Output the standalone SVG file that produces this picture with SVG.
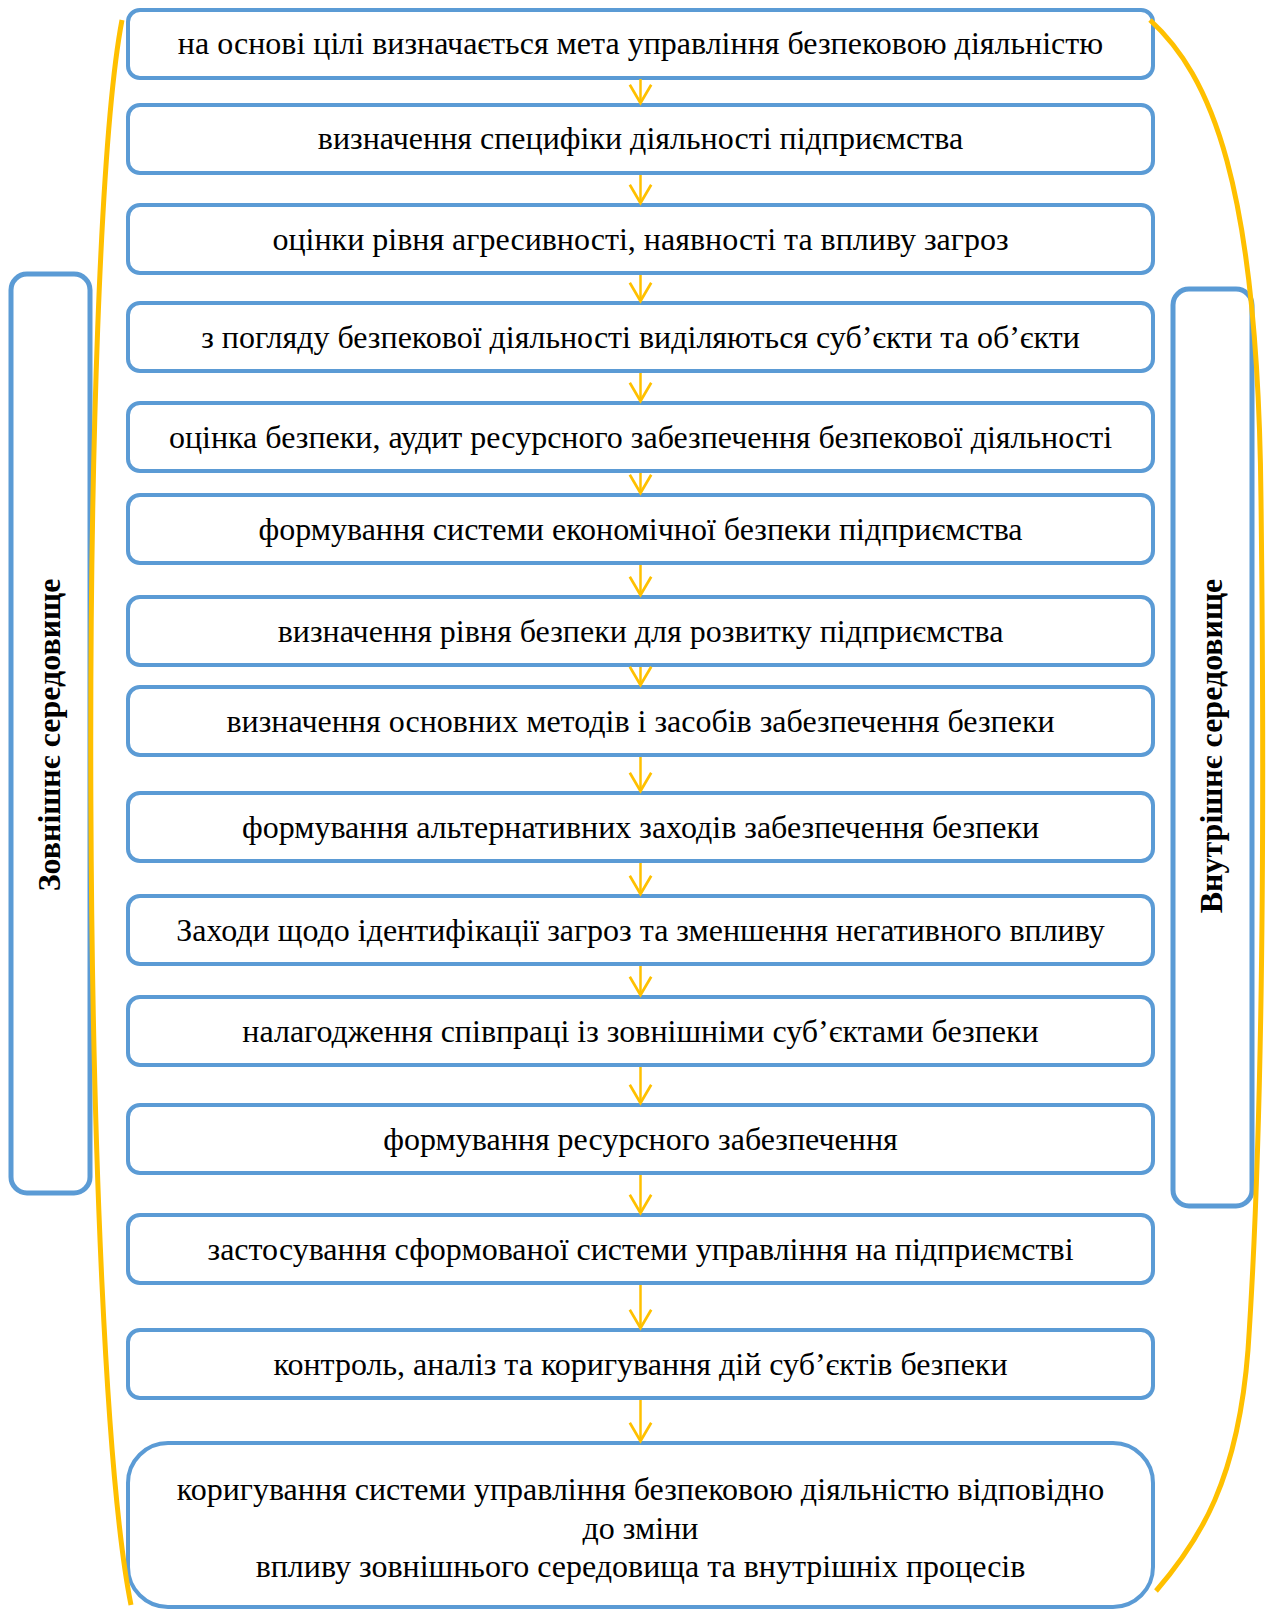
<svg xmlns="http://www.w3.org/2000/svg" width="1270" height="1609" viewBox="0 0 1270 1609">
<style>
.box{fill:#fff;stroke:#5B9BD5;stroke-width:4}
.side{fill:#fff;stroke:#5B9BD5;stroke-width:5}
.t{font-family:"Liberation Serif","Times New Roman",serif;font-size:32px;fill:#000;text-anchor:middle}
.vt{font-family:"Liberation Serif","Times New Roman",serif;font-size:32px;font-weight:bold;fill:#000;text-anchor:middle}
.arr{stroke:#FFC000;stroke-width:2.5;fill:none;marker-end:url(#ah)}
.loop{stroke:#FFC000;stroke-width:5;fill:none}
</style>
<defs>
<marker id="ah" markerUnits="userSpaceOnUse" markerWidth="30" markerHeight="30" viewBox="-22 -14 26 28" refX="0" refY="0" orient="auto" overflow="visible">
<path d="M-17,-10 L0,0 L-17,10" fill="none" stroke="#FFC000" stroke-width="2.5" stroke-linejoin="miter"/>
</marker>
</defs>
<rect width="1270" height="1609" fill="#fff"/>
<g id="side-left"><rect class="side" x="11" y="274" width="79" height="919" rx="16"/><text class="vt" transform="translate(60,735) rotate(-90)">Зовнішнє середовище</text></g>
<g id="side-right"><rect class="side" x="1173" y="289" width="79" height="917" rx="16"/><text class="vt" transform="translate(1222,746) rotate(-90)">Внутрішнє середовище</text></g>
<g id="n1"><rect class="box" x="128" y="10" width="1025" height="68" rx="12"/><text class="t" x="640.5" y="54">на основі цілі визначається мета управління безпековою діяльністю</text></g>
<g id="n2"><rect class="box" x="128" y="105" width="1025" height="68" rx="12"/><text class="t" x="640.5" y="149">визначення специфіки діяльності підприємства</text></g>
<g id="n3"><rect class="box" x="128" y="205" width="1025" height="68" rx="12"/><text class="t" x="640.5" y="250">оцінки рівня агресивності, наявності та впливу загроз</text></g>
<g id="n4"><rect class="box" x="128" y="303" width="1025" height="68" rx="12"/><text class="t" x="640.5" y="348">з погляду безпекової діяльності виділяються суб’єкти та об’єкти</text></g>
<g id="n5"><rect class="box" x="128" y="403" width="1025" height="68" rx="12"/><text class="t" x="640.5" y="448">оцінка безпеки, аудит ресурсного забезпечення безпекової діяльності</text></g>
<g id="n6"><rect class="box" x="128" y="495" width="1025" height="68" rx="12"/><text class="t" x="640.5" y="540">формування системи економічної безпеки підприємства</text></g>
<g id="n7"><rect class="box" x="128" y="597" width="1025" height="68" rx="12"/><text class="t" x="640.5" y="642">визначення рівня безпеки для розвитку підприємства</text></g>
<g id="n8"><rect class="box" x="128" y="687" width="1025" height="68" rx="12"/><text class="t" x="640.5" y="732">визначення основних методів і засобів забезпечення безпеки</text></g>
<g id="n9"><rect class="box" x="128" y="793" width="1025" height="68" rx="12"/><text class="t" x="640.5" y="838">формування альтернативних заходів забезпечення безпеки</text></g>
<g id="n10"><rect class="box" x="128" y="896" width="1025" height="68" rx="12"/><text class="t" x="640.5" y="941">Заходи щодо ідентифікації загроз та зменшення негативного впливу</text></g>
<g id="n11"><rect class="box" x="128" y="997" width="1025" height="68" rx="12"/><text class="t" x="640.5" y="1042">налагодження співпраці із зовнішніми суб’єктами безпеки</text></g>
<g id="n12"><rect class="box" x="128" y="1105" width="1025" height="68" rx="12"/><text class="t" x="640.5" y="1150">формування ресурсного забезпечення</text></g>
<g id="n13"><rect class="box" x="128" y="1215" width="1025" height="68" rx="12"/><text class="t" x="640.5" y="1260">застосування сформованої системи управління на підприємстві</text></g>
<g id="n14"><rect class="box" x="128" y="1330" width="1025" height="68" rx="12"/><text class="t" x="640.5" y="1375">контроль, аналіз та коригування дій суб’єктів безпеки</text></g>
<g id="n15"><rect class="box" x="128" y="1443" width="1025" height="164" rx="40"/><text class="t" x="640.5" y="1500">коригування системи управління безпековою діяльністю відповідно</text><text class="t" x="640.5" y="1539">до зміни</text><text class="t" x="640.5" y="1577">впливу зовнішнього середовища та внутрішніх процесів</text></g>
<g id="connectors">
<line class="arr" x1="640.5" y1="79" x2="640.5" y2="103"/>
<line class="arr" x1="640.5" y1="175" x2="640.5" y2="203"/>
<line class="arr" x1="640.5" y1="275" x2="640.5" y2="301"/>
<line class="arr" x1="640.5" y1="373" x2="640.5" y2="401"/>
<line class="arr" x1="640.5" y1="473" x2="640.5" y2="493"/>
<line class="arr" x1="640.5" y1="565" x2="640.5" y2="595"/>
<line class="arr" x1="640.5" y1="667" x2="640.5" y2="685"/>
<line class="arr" x1="640.5" y1="757" x2="640.5" y2="791"/>
<line class="arr" x1="640.5" y1="863" x2="640.5" y2="894"/>
<line class="arr" x1="640.5" y1="966" x2="640.5" y2="995"/>
<line class="arr" x1="640.5" y1="1067" x2="640.5" y2="1103"/>
<line class="arr" x1="640.5" y1="1175" x2="640.5" y2="1213"/>
<line class="arr" x1="640.5" y1="1285" x2="640.5" y2="1328"/>
<line class="arr" x1="640.5" y1="1400" x2="640.5" y2="1441"/>
<path class="loop" d="M122,20 C78,250 80,1350 131,1605"/>
<path class="loop" d="M1150,20 C1210,75 1258,180 1261,500 C1264,750 1265,1100 1248,1350 C1238,1480 1200,1540 1156,1591"/>
</g>
</svg>
